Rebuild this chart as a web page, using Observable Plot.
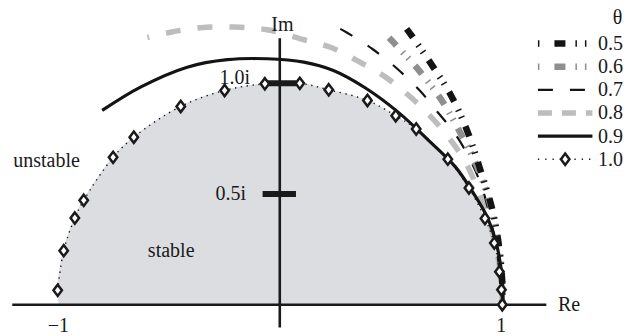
<!DOCTYPE html>
<html><head><meta charset="utf-8">
<script src="https://cdn.jsdelivr.net/npm/d3@7"></script>
<script src="https://cdn.jsdelivr.net/npm/@observablehq/plot@0.6"></script>
<style>html,body{margin:0;padding:0;background:#fff}</style>
</head><body><div id="chart"></div>
<script>
// ---- data ----
const thetas = ["0.5", "0.6", "0.7", "0.8", "0.9", "1.0"];

const re05 = [0.570, 0.592, 0.686, 0.772, 0.846, 0.902, 0.956, 0.987, 0.999, 1.0];
const im05 = [1.245, 1.215, 1.078, 0.940, 0.775, 0.606, 0.426, 0.245, 0.110, 0.0];

const re06 = [0.491, 0.510, 0.629, 0.731, 0.817, 0.884, 0.947, 0.985, 0.999, 1.0];
const im06 = [1.205, 1.185, 1.053, 0.917, 0.765, 0.629, 0.448, 0.268, 0.110, 0.0];

const re07 = [0.272, 0.299, 0.418, 0.529, 0.632, 0.707, 0.790, 0.857, 0.910, 0.955, 0.985, 1.0];
const im07 = [1.245, 1.230, 1.153, 1.064, 0.963, 0.872, 0.768, 0.651, 0.525, 0.349, 0.177, 0.0];

const re08 = [-0.595, -0.491, -0.356, -0.207, -0.057, 0.093, 0.228, 0.354, 0.477, 0.590, 0.686, 0.772, 0.835, 0.890, 0.940, 0.975, 0.995, 1.0];
const im08 = [1.206, 1.230, 1.250, 1.253, 1.241, 1.200, 1.162, 1.098, 1.026, 0.935, 0.841, 0.737, 0.642, 0.520, 0.380, 0.240, 0.110, 0.0];

const re09 = [-0.798, -0.626, -0.416, -0.236, -0.057, 0.108, 0.241, 0.385, 0.533, 0.677, 0.790, 0.862, 0.932, 0.977, 1.0, 1.003];
const im09 = [0.877, 0.982, 1.072, 1.106, 1.110, 1.095, 1.057, 0.978, 0.868, 0.734, 0.621, 0.516, 0.395, 0.260, 0.110, 0.0];

const re10 = [-0.998, -0.971, -0.921, -0.881, -0.749, -0.656, -0.445, -0.248, -0.067, 0.090, 0.220, 0.394, 0.521, 0.613, 0.755, 0.850, 0.922, 0.964, 0.987, 0.996, 1.0];
const im10 = [0.065, 0.244, 0.391, 0.471, 0.665, 0.756, 0.895, 0.967, 0.997, 0.999, 0.970, 0.922, 0.853, 0.793, 0.657, 0.527, 0.389, 0.278, 0.149, 0.068, 0.0];

const stableFoot = [-0.99, 0.0];          // where the shaded region meets the real axis
const imTicks = [0.5, 1.0];
const imTickLabels = ["0.5i", "1.0i"];
const reTicks = [-1, 1];
const reTickLabels = ["\u22121", "1"];
const regionLabels = ["unstable", "stable"];

// ---- styles ----
const styles = {
  "0.5": {stroke: "#141414", width: 6.5, dash: "11,9,1.5,6,1.5,9", offset: 0, legendDash: "1.5,15,11,10,1.5,8,1.5,40", curve: "catmull-rom"},
  "0.6": {stroke: "#8f8f8f", width: 6.5, dash: "11,9,1.5,6,1.5,9", offset: 0, legendDash: "1.5,15,11,10,1.5,8,1.5,40", curve: "catmull-rom"},
  "0.7": {stroke: "#141414", width: 2.2, dash: "14,18", offset: 0, legendDash: "15,17", curve: "catmull-rom"},
  "0.8": {stroke: "#bdbdbd", width: 5.5, dash: "15,17", offset: 13, legendDash: "14,10", curve: "catmull-rom"},
  "0.9": {stroke: "#141414", width: 3.2, dash: null, offset: 0, legendDash: null, curve: "catmull-rom"},
  "1.0": {stroke: "#141414", width: 1.4, dash: "1.3,4.6", offset: 0, legendDash: "1.3,6", curve: "catmull-rom"}
};

// a squat diamond marker (width ≈ 0.75 × height)
const squatDiamond = {
  draw(context, size) {
    const a = Math.sqrt(size / 1.5), b = 0.75 * a;
    context.moveTo(0, -a); context.lineTo(b, 0); context.lineTo(0, a); context.lineTo(-b, 0); context.closePath();
  }
};

const zipPts = (re, im) => re.map((r, i) => ({re: r, im: im[i]}));
const curves = {
  "0.5": zipPts(re05, im05),
  "0.6": zipPts(re06, im06),
  "0.7": zipPts(re07, im07),
  "0.8": zipPts(re08, im08),
  "0.9": zipPts(re09, im09),
  "1.0": zipPts(re10, im10)
};
const stableRegion = [{re: stableFoot[0], im: stableFoot[1]}, ...curves["1.0"]];

// legend placement in data coordinates
const legX1 = 1.16, legX2 = 1.405, legTextX = 1.43, legY0 = 1.179, legStep = 0.1045;
const legendRows = thetas.map((t, i) => ({theta: t, y: legY0 - i * legStep}));

const font = "'Liberation Serif','Times New Roman',serif";
const ink = "#1a1a1a";
const diamondStyle = {symbol: squatDiamond, r: 3.9, fill: "white", stroke: ink, strokeWidth: 2.5};

const marks = [];
marks.push(Plot.areaY(stableRegion, {x: "re", y: "im", fill: "#dcdde0", curve: "catmull-rom"}));
marks.push(Plot.ruleY([0], {x1: -1.2, x2: 1.2, stroke: ink, strokeWidth: 2.6}));
marks.push(Plot.ruleX([0], {y1: -0.105, y2: 1.2, stroke: ink, strokeWidth: 2.6}));
for (const t of ["0.8", "0.7", "0.6", "0.5", "0.9", "1.0"]) {
  const s = styles[t];
  marks.push(Plot.line(curves[t], {
    x: "re", y: "im", stroke: s.stroke, strokeWidth: s.width, curve: s.curve,
    strokeDasharray: s.dash || undefined, strokeDashoffset: s.offset, strokeLinecap: "butt"
  }));
}
marks.push(Plot.ruleY(imTicks, {x1: -0.075, x2: 0.075, stroke: ink, strokeWidth: 6}));
marks.push(Plot.dot(curves["1.0"], {x: "re", y: "im", ...diamondStyle}));

const txt = {fontFamily: font, fontSize: 20, fill: ink};
marks.push(Plot.text(imTicks, {x: [-0.152, -0.134], y: imTicks.map((v, i) => v + (i === 1 ? 0.026 : 0)), text: imTickLabels, textAnchor: "end", ...txt}));
marks.push(Plot.text(reTicks, {x: reTicks.map(v => v * 0.995), y: [-0.093, -0.093], text: reTickLabels, textAnchor: "middle", ...txt}));
marks.push(Plot.text(["Re"], {x: [1.25], y: [0.0], text: d => d, textAnchor: "start", ...txt}));
marks.push(Plot.text(["Im"], {x: [0.012], y: [1.265], text: d => d, textAnchor: "middle", ...txt}));
marks.push(Plot.text([regionLabels[0]], {x: [-1.198], y: [0.651], text: d => d, textAnchor: "start", ...txt}));
marks.push(Plot.text([regionLabels[1]], {x: [-0.488], y: [0.245], text: d => d, textAnchor: "middle", ...txt}));

// legend
marks.push(Plot.text(["\u03b8"], {x: [1.518], y: [1.297], text: d => d, textAnchor: "middle", ...txt}));
for (const row of legendRows) {
  const s = styles[row.theta];
  marks.push(Plot.line([{re: legX1, im: row.y}, {re: legX2, im: row.y}], {
    x: "re", y: "im", stroke: s.stroke, strokeWidth: s.width,
    strokeDasharray: s.legendDash || undefined, strokeLinecap: "butt"
  }));
}
const lastRow = legendRows[legendRows.length - 1];
marks.push(Plot.dot([{re: (legX1 + legX2) / 2, im: lastRow.y}], {x: "re", y: "im", ...diamondStyle}));
marks.push(Plot.text(legendRows, {x: legTextX, y: "y", text: "theta", textAnchor: "start", ...txt}));

const chart = Plot.plot({
  width: 632, height: 336, margin: 0,
  x: {domain: [-1.255, 1.585], axis: null},
  y: {domain: [-0.1435, 1.373], axis: null},
  style: {background: "white", fontFamily: font},
  marks
});
document.getElementById("chart").appendChild(chart);
</script>
</body></html>
